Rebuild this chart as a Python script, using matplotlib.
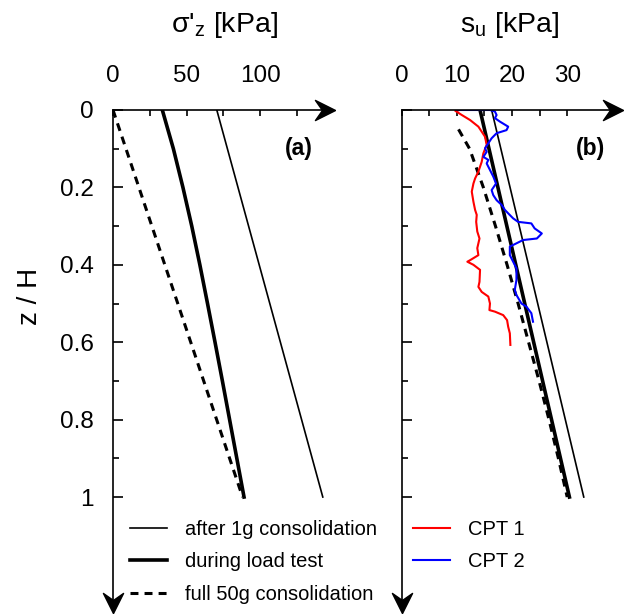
import matplotlib
matplotlib.use("Agg")
import matplotlib.pyplot as plt
from matplotlib.ticker import FixedLocator

plt.rcParams['font.family'] = ['Liberation Sans', 'DejaVu Sans']
plt.rcParams['mathtext.fontset'] = 'custom'
plt.rcParams['mathtext.rm'] = 'Liberation Sans'

# panel (a): vertical effective stress vs normalised depth
z_lin = [0.0, 1.0]
sig_1g = [70.5, 142.5]
sig_50g = [0.0, 88.0]
z_load = [0.0, 0.1, 0.2, 0.3, 0.4, 0.5, 0.6, 0.7, 0.8, 0.9, 1.0]
sig_load = [33.5, 41.0, 47.5, 53.5, 59.0, 64.2, 69.3, 74.3, 79.2, 84.1, 89.0]

# panel (b): undrained shear strength
su_1g = [16.3, 33.0]
su_load = [14.2, 30.4]
z_su50 = [0.05, 0.1, 0.2, 0.3, 0.4, 0.5, 0.6, 0.7, 0.8, 0.9, 1.0]
su_50g = [10.3, 12.3, 14.8, 17.0, 19.1, 21.1, 23.0, 24.9, 26.7, 28.4, 30.0]

z_cpt1 = [0.0, 0.002, 0.013, 0.026, 0.043, 0.069, 0.09, 0.112, 0.134, 0.159, 0.177,
          0.19, 0.211, 0.237, 0.258, 0.271, 0.289, 0.314, 0.332, 0.357, 0.375, 0.388,
          0.392, 0.40, 0.413, 0.444, 0.457, 0.47, 0.482, 0.50, 0.517, 0.521, 0.53,
          0.543, 0.56, 0.577, 0.607]
su_cpt1 = [10.5, 9.7, 10.9, 12.4, 13.9, 15.1, 15.4, 14.8, 14.5, 13.9, 13.3,
           13.0, 12.7, 13.0, 13.3, 13.6, 13.5, 13.7, 14.1, 13.7, 13.9, 12.4,
           11.9, 13.0, 14.2, 14.1, 13.9, 14.5, 15.7, 16.0, 15.9, 16.9, 18.4,
           19.1, 19.3, 19.6, 19.7]

z_cpt2 = [0.0, 0.0, 0.004, 0.013, 0.021, 0.03, 0.043, 0.052, 0.06, 0.073, 0.086,
          0.099, 0.108, 0.121, 0.129, 0.138, 0.155, 0.172, 0.19, 0.207, 0.22,
          0.233, 0.245, 0.258, 0.267, 0.28, 0.289, 0.293, 0.306, 0.319, 0.332,
          0.336, 0.353, 0.375, 0.392, 0.409, 0.439, 0.465, 0.478, 0.50, 0.508,
          0.525, 0.547]
su_cpt2 = [10.2, 16.0, 16.9, 17.2, 16.9, 17.8, 19.3, 19.0, 17.2, 16.3, 15.7,
           15.1, 15.4, 14.8, 15.7, 15.4, 16.0, 16.6, 17.1, 16.3, 16.6,
           17.2, 18.1, 18.7, 19.3, 20.2, 21.1, 23.5, 24.1, 25.4, 24.5,
           22.0, 19.6, 19.6, 20.2, 20.8, 20.8, 20.5, 20.8, 21.7, 22.6,
           23.5, 23.8]

W, H = 629, 614
fig = plt.figure(figsize=(W / 100, H / 100), dpi=100)

bottom = (H - 603.0) / H
height = 493.0 / H
ax1 = fig.add_axes([113 / W, bottom, 212 / W, height])
ax2 = fig.add_axes([401.7 / W, bottom, 211.3 / W, height])

ax1.plot(sig_1g, z_lin, color='black', lw=1.2, label='after 1g consolidation')
ax1.plot(sig_load, z_load, color='black', lw=2.6, label='during load test')
ax1.plot(sig_50g, z_lin, color='black', lw=2.2, dashes=(2.6, 2.0),
         label='full 50g consolidation')

ax2.plot(su_1g, z_lin, color='black', lw=1.2)
ax2.plot(su_load, z_lin, color='black', lw=2.6)
ax2.plot(su_50g, z_su50, color='black', lw=2.2, dashes=(2.6, 2.0))
ax2.plot(su_cpt1, z_cpt1, color='#ff0000', lw=1.5, label='CPT 1')
ax2.plot(su_cpt2, z_cpt2, color='#0000ff', lw=1.5, label='CPT 2')

right_head = [(1, 0), (-1, 1), (-0.3, 0), (-1, -1), (1, 0)]
down_head = [(0, -1), (1, 1), (0, 0.3), (-1, 1), (0, -1)]

for ax, xmax, xticks, xlabels in [
        (ax1, 144.0, [0, 25, 50, 75, 100, 125], ['0', '', '50', '', '100', '']),
        (ax2, 38.3, [0, 5, 10, 15, 20, 25, 30], ['0', '', '10', '', '20', '', '30'])]:
    ax.set_xlim(0, xmax)
    ax.set_ylim(1.2738, 0)
    for s in ['right', 'bottom']:
        ax.spines[s].set_visible(False)
    for s in ['left', 'top']:
        ax.spines[s].set_linewidth(1.2)
    ax.xaxis.tick_top()
    ax.xaxis.set_major_locator(FixedLocator(xticks))
    ax.set_xticklabels(xlabels)
    ax.yaxis.set_major_locator(FixedLocator([0, 0.2, 0.4, 0.6, 0.8, 1.0]))
    ax.yaxis.set_minor_locator(FixedLocator([0.1, 0.3, 0.5, 0.7, 0.9]))
    ax.tick_params(axis='x', direction='in', length=4, width=1.2, labelsize=17.5, pad=16.5)
    ax.tick_params(axis='y', which='major', direction='in', length=7.5, width=1.2,
                   labelsize=17.5, pad=14)
    ax.tick_params(axis='y', which='minor', direction='in', length=4.5, width=1.2)
    ax.plot([1], [1], transform=ax.transAxes, marker=right_head, ms=14.5,
            color='black', clip_on=False)
    ax.plot([0], [0], transform=ax.transAxes, marker=down_head, ms=14.5,
            color='black', clip_on=False)

ax1.set_yticklabels(['0', '0.2', '0.4', '0.6', '0.8', '1'])
ax2.set_yticklabels([])

ax1.text(136, 0.1, '(a)', fontsize=16.5, fontweight='bold', ha='right', va='center')
ax2.text(36.8, 0.1, '(b)', fontsize=16.5, fontweight='bold', ha='right', va='center')

fig.text(224 / W, 1 - 25 / H, r"σ'$_\mathregular{z}$ [kPa]", fontsize=20.5,
         ha='center', va='center')
fig.text(510 / W, 1 - 25 / H, r"s$_\mathregular{u}$ [kPa]", fontsize=20.5,
         ha='center', va='center')
fig.text(30 / W, 1 - 296 / H, 'z / H', fontsize=20, rotation=90,
         ha='center', va='center')

leg_kw = dict(loc='upper left', bbox_transform=fig.transFigure, frameon=False,
              fontsize=14.5, handlelength=1.84, handletextpad=0.9, labelspacing=0.66,
              borderpad=0, borderaxespad=0)
ax1.legend(bbox_to_anchor=(130 / W, 1 - 520 / H), **leg_kw)
ax2.legend(bbox_to_anchor=(413 / W, 1 - 520 / H), **leg_kw)

fig.savefig('out.png', dpi=100)
